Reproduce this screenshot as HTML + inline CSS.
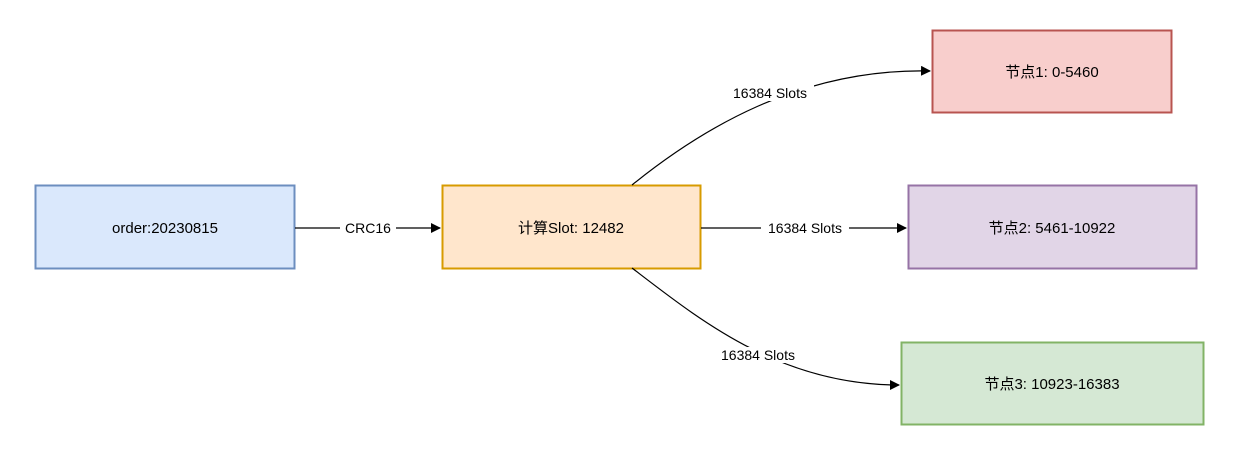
<!DOCTYPE html>
<html><head><meta charset="utf-8"><style>
html,body{margin:0;padding:0;background:#fff;}
</style></head><body>
<svg width="1248" height="456" xmlns="http://www.w3.org/2000/svg" style="display:block;font-family:'Liberation Sans','Noto Sans CJK SC',sans-serif;">
<defs><marker id="a" markerWidth="10" markerHeight="10" refX="9" refY="5" orient="auto" markerUnits="userSpaceOnUse"><path d="M0,0 L10,5 L0,10 z" fill="#000"/></marker></defs>
<rect x="35.5" y="185.5" width="259" height="83" fill="#dae8fc" stroke="#6c8ebf" stroke-width="2"/>
<rect x="442.5" y="185.5" width="258" height="83" fill="#ffe6cc" stroke="#d79b00" stroke-width="2"/>
<rect x="932.5" y="30.5" width="239" height="82" fill="#f8cecc" stroke="#b85450" stroke-width="2"/>
<rect x="908.5" y="185.5" width="288" height="83" fill="#e1d5e7" stroke="#9673a6" stroke-width="2"/>
<rect x="901.5" y="342.5" width="302" height="82" fill="#d5e8d4" stroke="#82b366" stroke-width="2"/>
<g font-size="15" text-anchor="middle" fill="#000">
<text x="165" y="233">order:20230815</text>
<text x="571" y="233">计算Slot: 12482</text>
<text x="1052" y="77">节点1: 0-5460</text>
<text x="1052" y="233">节点2: 5461-10922</text>
<text x="1052" y="389">节点3: 10923-16383</text>
</g>
<g fill="none" stroke="#000" stroke-width="1.2">
<path d="M295,228 L440,228" marker-end="url(#a)"/>
<path d="M701,228 L906,228" marker-end="url(#a)"/>
<path d="M632,185 C700,130 800,68 930,71" marker-end="url(#a)"/>
<path d="M632,268 C700,320 780,385 899,385" marker-end="url(#a)"/>
</g>
<g font-size="14" text-anchor="middle" fill="#000">
<rect x="340" y="220" width="56" height="16" fill="#fff"/>
<text x="368" y="233">CRC16</text>
<rect x="761" y="220" width="88" height="16" fill="#fff"/>
<text x="805" y="233">16384 Slots</text>
<rect x="726" y="85" width="88" height="16" fill="#fff"/>
<text x="770" y="98">16384 Slots</text>
<rect x="714" y="347" width="88" height="16" fill="#fff"/>
<text x="758" y="360">16384 Slots</text>
</g>
</svg>
</body></html>
